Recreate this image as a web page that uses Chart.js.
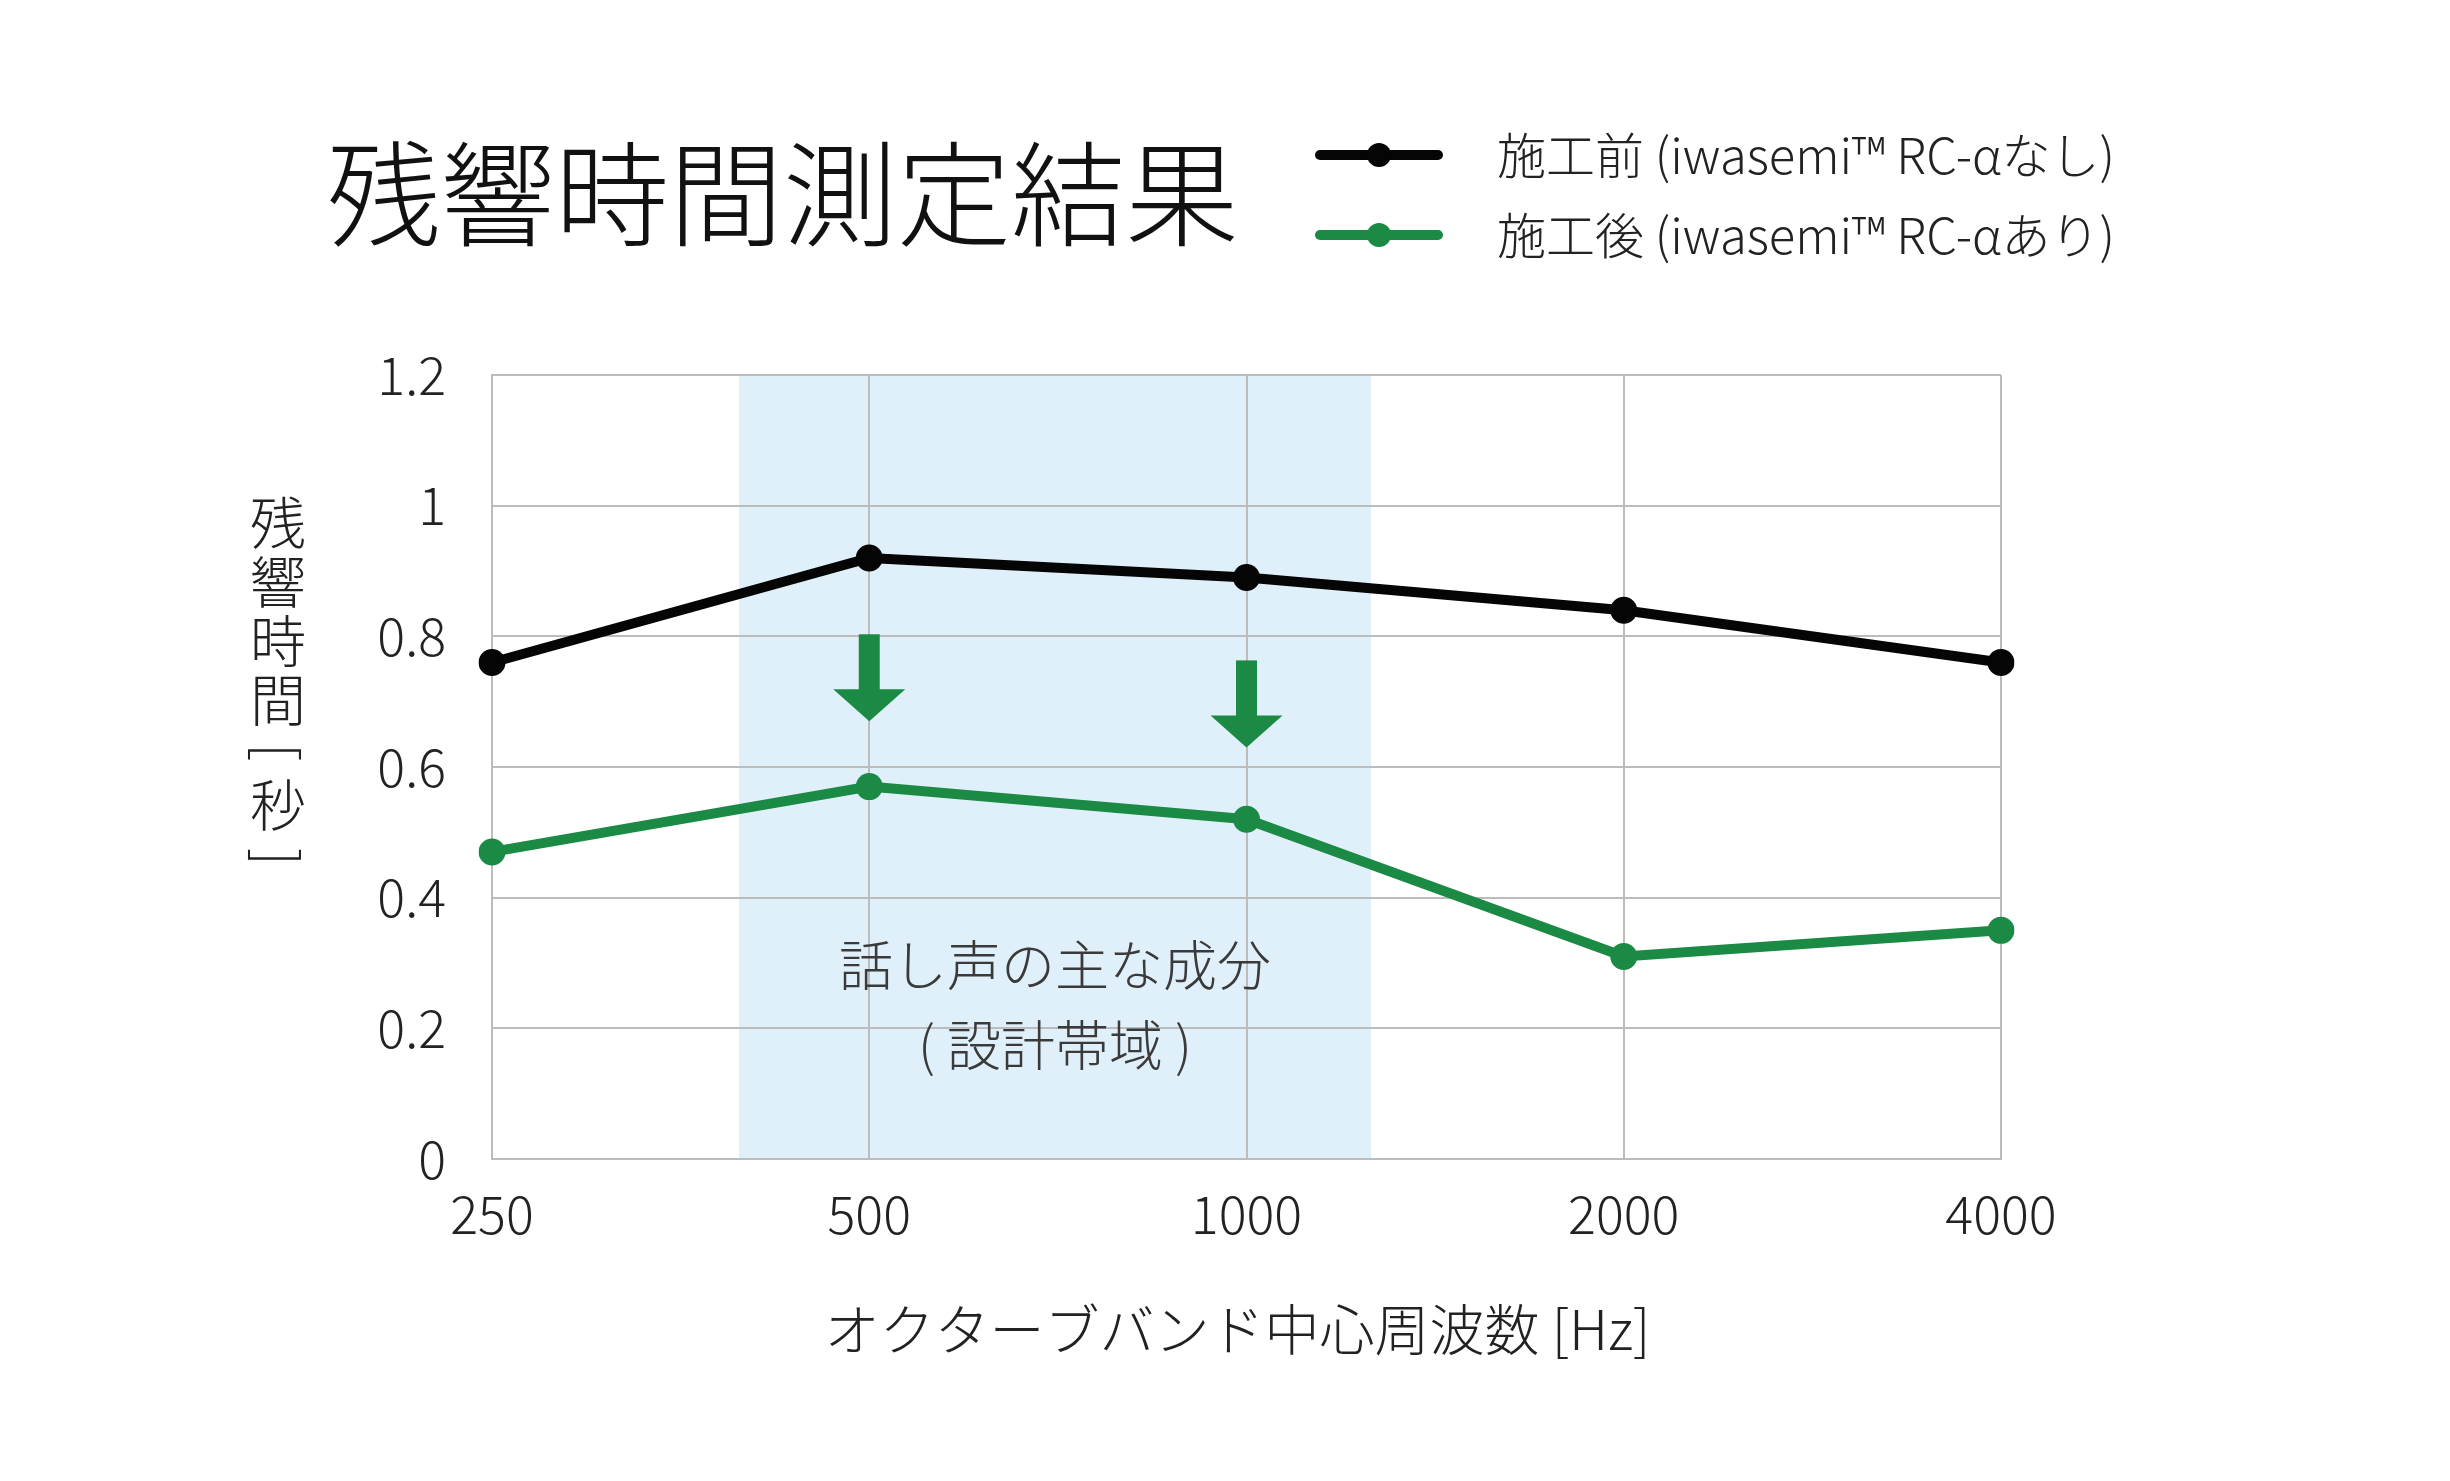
<!DOCTYPE html>
<html>
<head>
<meta charset="utf-8">
<script src="https://cdn.jsdelivr.net/npm/chart.js@4.4.1/dist/chart.umd.min.js"></script>
<style>
  html, body { margin: 0; padding: 0; background: #fff; }
  canvas { display: block; }
</style>
</head>
<body>
<canvas id="chart" width="2450" height="1481"></canvas>
<script>
// octave band centre frequencies and reverberation time [s]
const bands  = ["250", "500", "1000", "2000", "4000"];
const before = [0.76, 0.92, 0.89, 0.84, 0.76];   // 施工前
const after  = [0.47, 0.57, 0.52, 0.31, 0.35];   // 施工後
const yTicks = [0, 0.2, 0.4, 0.6, 0.8, 1, 1.2];

// speech band (category index units) and where the arrows go
const speechRange = [0.655, 2.33];
const arrowBands  = [1, 2];

const FONT   = '"Noto Sans CJK JP", "Noto Sans", sans-serif';
const BLACK  = "#050505";
const GREEN  = "#1b8a45";
const GRID   = "#bcbcbc";
const BAND   = "#dff0fa";

function font(size) { return "300 " + size + "px " + FONT; }

const decor = {
  id: "decor",
  beforeDraw(chart) {
    const { ctx, chartArea: a, scales: { x } } = chart;
    ctx.save();
    ctx.fillStyle = "#fff";
    ctx.fillRect(0, 0, chart.width, chart.height);
    // speech band shading
    const x0 = x.getPixelForValue(speechRange[0]);
    const x1 = x.getPixelForValue(speechRange[1]);
    ctx.fillStyle = BAND;
    ctx.fillRect(x0, a.top, x1 - x0, a.bottom - a.top);
    ctx.restore();
  },
  afterDatasetsDraw(chart) {
    const { ctx, chartArea: a, scales: { x, y } } = chart;
    ctx.save();

    // band caption
    const cx = (x.getPixelForValue(speechRange[0]) + x.getPixelForValue(speechRange[1])) / 2;
    ctx.fillStyle = "#3a3a3a";
    ctx.font = font(54);
    ctx.textAlign = "center";
    ctx.textBaseline = "middle";
    ctx.fillText("話し声の主な成分", cx, 965);
    ctx.fillText("( 設計帯域 )", cx, 1045);

    // down arrows between the two curves
    ctx.fillStyle = GREEN;
    arrowBands.forEach(i => {
      const px = x.getPixelForValue(i);
      const mid = (y.getPixelForValue(before[i]) + y.getPixelForValue(after[i])) / 2 + 5;
      const top = mid - 43, tip = mid + 44, head = tip - 32;
      ctx.fillRect(px - 10.5, top, 21, head - top + 1);
      ctx.beginPath();
      ctx.moveTo(px - 36, head);
      ctx.lineTo(px + 36, head);
      ctx.lineTo(px, tip);
      ctx.closePath();
      ctx.fill();
    });

    // main title
    ctx.fillStyle = "#111";
    ctx.font = font(114);
    ctx.textAlign = "left";
    ctx.textBaseline = "middle";
    ctx.fillText("残響時間測定結果", 327, 194);

    // legend
    const items = [
      { c: BLACK, t: "施工前 (iwasemi™ RC-αなし)", y: 155 },
      { c: GREEN, t: "施工後 (iwasemi™ RC-αあり)", y: 235 }
    ];
    items.forEach(it => {
      ctx.strokeStyle = it.c;
      ctx.lineWidth = 10;
      ctx.lineCap = "round";
      ctx.beginPath();
      ctx.moveTo(1320, it.y);
      ctx.lineTo(1438, it.y);
      ctx.stroke();
      ctx.fillStyle = it.c;
      ctx.beginPath();
      ctx.arc(1379, it.y, 12, 0, Math.PI * 2);
      ctx.fill();
      ctx.fillStyle = "#222";
      ctx.font = font(49);
      ctx.fillText(it.t, 1497, it.y);
    });

    // vertical y-axis title
    ctx.fillStyle = "#222";
    ctx.font = font(56);
    ctx.textAlign = "center";
    const tx = 278;
    [["残", 523], ["響", 582], ["時", 641], ["間", 700], ["秒", 805]].forEach(([ch, yy]) => {
      ctx.fillText(ch, tx, yy);
    });
    [["[", 752], ["]", 857]].forEach(([ch, yy]) => {
      ctx.save();
      ctx.translate(tx, yy);
      ctx.rotate(Math.PI / 2);
      ctx.fillText(ch, 0, 0);
      ctx.restore();
    });

    // x-axis title
    ctx.font = font(55);
    ctx.fillText("オクターブバンド中心周波数 [Hz]", (a.left + a.right) / 2 - 9, 1329);
    ctx.restore();
  }
};

new Chart(document.getElementById("chart").getContext("2d"), {
  type: "line",
  data: {
    labels: bands,
    datasets: [
      {
        label: "施工前 (iwasemi™ RC-αなし)",
        data: before,
        borderColor: BLACK,
        backgroundColor: BLACK,
        borderWidth: 10,
        pointRadius: 13.5,
        pointBorderWidth: 0,
        tension: 0
      },
      {
        label: "施工後 (iwasemi™ RC-αあり)",
        data: after,
        borderColor: GREEN,
        backgroundColor: GREEN,
        borderWidth: 10,
        pointRadius: 13.5,
        pointBorderWidth: 0,
        tension: 0
      }
    ]
  },
  options: {
    responsive: false,
    animation: false,
    layout: { padding: { top: 375, right: 449, bottom: 0, left: 0 } },
    plugins: {
      legend: { display: false },
      title: { display: false },
      tooltip: { enabled: false }
    },
    scales: {
      x: {
        offset: false,
        grid: { color: GRID, lineWidth: 2, drawTicks: false },
        border: { color: GRID, width: 2 },
        ticks: { color: "#222", font: { family: FONT, size: 52, weight: 300 }, padding: 24 },
        afterFit(s) { s.height = 1481 - 1159; }
      },
      y: {
        min: 0,
        max: 1.2,
        afterBuildTicks(s) { s.ticks = yTicks.map(v => ({ value: v })); },
        grid: { color: GRID, lineWidth: 2, drawTicks: false },
        border: { color: GRID, width: 2 },
        ticks: {
          color: "#222",
          font: { family: FONT, size: 52, weight: 300 },
          padding: 46,
          callback: v => String(+v.toFixed(1))
        },
        afterFit(s) { s.width = 492; }
      }
    }
  },
  plugins: [decor]
});
</script>
</body>
</html>
